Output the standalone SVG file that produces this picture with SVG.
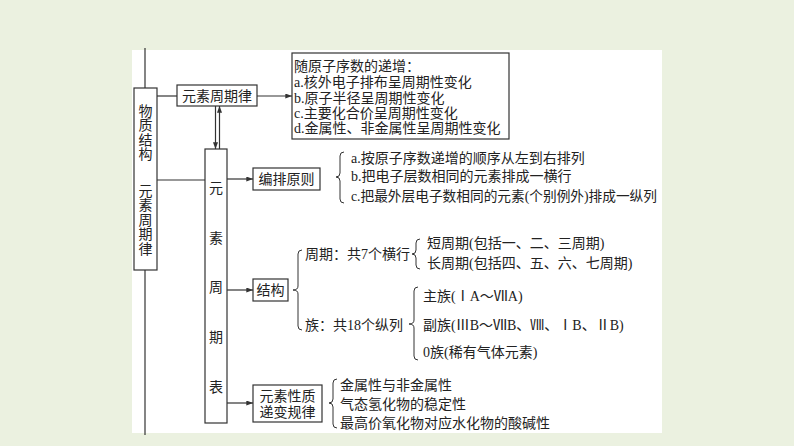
<svg xmlns="http://www.w3.org/2000/svg" width="794" height="446" viewBox="0 0 794 446">
<defs>
<style>
text{font-family:"Liberation Serif","Noto Sans CJK SC",serif;font-size:14px;fill:#222;dominant-baseline:central}
.box{fill:#fff;stroke:#333;stroke-width:1.2}
.ln{fill:none;stroke:#333;stroke-width:1.2}
.br{fill:none;stroke:#333;stroke-width:1}
.mid{text-anchor:middle}
</style>
<marker id="ah" viewBox="0 0 8 6" refX="8" refY="3" markerWidth="7" markerHeight="5" orient="auto" markerUnits="userSpaceOnUse">
<path d="M0,0 L8,3 L0,6 Z" fill="#333"/>
</marker>
</defs>
<rect width="794" height="446" fill="#ebf1e0"/>
<rect x="132" y="50" width="530" height="383" fill="#fff"/>

<g id="connectors">
<line class="ln" x1="145" y1="48" x2="145" y2="88"/>
<line class="ln" x1="145" y1="270" x2="145" y2="435"/>
<line class="ln" x1="157" y1="96" x2="177" y2="96"/>
<line class="ln" x1="257" y1="96" x2="292" y2="96" marker-end="url(#ah)"/>
<line class="ln" x1="157" y1="180" x2="205" y2="180"/>
<line class="ln" x1="215.5" y1="106" x2="215.5" y2="149" marker-end="url(#ah)"/>
<line class="ln" x1="219.5" y1="149" x2="219.5" y2="106" marker-end="url(#ah)"/>
<line class="ln" x1="227" y1="179" x2="253" y2="179" marker-end="url(#ah)"/>
<line class="ln" x1="227" y1="290" x2="253" y2="290" marker-end="url(#ah)"/>
<line class="ln" x1="227" y1="403" x2="253" y2="403" marker-end="url(#ah)"/>
</g>

<g id="node-wuzhi">
<rect class="box" x="134" y="88" width="23" height="182"/>
<text class="mid" x="145.5" y="111">物</text>
<text class="mid" x="145.5" y="125.5">质</text>
<text class="mid" x="145.5" y="140">结</text>
<text class="mid" x="145.5" y="154.5">构</text>
<text class="mid" x="145.5" y="191">元</text>
<text class="mid" x="145.5" y="205.5">素</text>
<text class="mid" x="145.5" y="220">周</text>
<text class="mid" x="145.5" y="234.5">期</text>
<text class="mid" x="145.5" y="249">律</text>
</g>

<g id="node-zhouqilv">
<rect class="box" x="177" y="85" width="80" height="21"/>
<text class="mid" x="217" y="96">元素周期律</text>
</g>

<g id="node-suiyuanzi">
<rect class="box" x="292" y="53" width="217" height="86"/>
<text x="294" y="66">随原子序数的递增：</text>
<text x="294" y="82">a.核外电子排布呈周期性变化</text>
<text x="294" y="98">b.原子半径呈周期性变化</text>
<text x="294" y="113">c.主要化合价呈周期性变化</text>
<text x="294" y="128">d.金属性、非金属性呈周期性变化</text>
</g>

<g id="node-zhouqibiao">
<rect class="box" x="205" y="149" width="22" height="274"/>
<text class="mid" x="216" y="188">元</text>
<text class="mid" x="216" y="238">素</text>
<text class="mid" x="216" y="287">周</text>
<text class="mid" x="216" y="337">期</text>
<text class="mid" x="216" y="387">表</text>
</g>

<g id="node-bianpai">
<rect class="box" x="253" y="168" width="67" height="22"/>
<text class="mid" x="286.5" y="179">编排原则</text>
<path class="br" d="M344,152 Q340,152 340,156 L340,173 Q340,177 336,177 Q340,177 340,181 L340,199 Q340,203 344,203"/>
<text x="351" y="158">a.按原子序数递增的顺序从左到右排列</text>
<text x="351" y="176">b.把电子层数相同的元素排成一横行</text>
<text x="351" y="196" textLength="306" lengthAdjust="spacingAndGlyphs">c.把最外层电子数相同的元素(个别例外)排成一纵列</text>
</g>

<g id="node-jiegou">
<rect class="box" x="253" y="279" width="35" height="22"/>
<text class="mid" x="270.5" y="290">结构</text>
<path class="br" d="M302,250 Q298,250 298,254 L298,286 Q298,290 293,290 Q298,290 298,294 L298,326 Q298,330 302,330"/>
<text x="305" y="254">周期：共7个横行</text>
<text x="305" y="325">族：共18个纵列</text>
<path class="br" d="M420,239 Q416,239 416,243 L416,250 Q416,254 412,254 Q416,254 416,258 L416,265 Q416,269 420,269"/>
<text x="427" y="243">短周期(包括一、二、三周期)</text>
<text x="427" y="263">长周期(包括四、五、六、七周期)</text>
<path class="br" d="M418,287 Q414,287 414,291 L414,320 Q414,324 409,324 Q414,324 414,328 L414,356 Q414,360 418,360"/>
<text x="423" y="296">主族(ⅠA～ⅦA)</text>
<text x="423" y="325">副族(ⅢB～ⅦB、Ⅷ、ⅠB、ⅡB)</text>
<text x="423" y="352">0族(稀有气体元素)</text>
</g>

<g id="node-xingzhi">
<rect class="box" x="253" y="385" width="69" height="37"/>
<text class="mid" x="287.5" y="396">元素性质</text>
<text class="mid" x="287.5" y="412">递变规律</text>
<path class="br" d="M337,379 Q333,379 333,383 L333,399 Q333,403 329,403 Q333,403 333,407 L333,424 Q333,428 337,428"/>
<text x="340" y="385">金属性与非金属性</text>
<text x="340" y="404">气态氢化物的稳定性</text>
<text x="340" y="423">最高价氧化物对应水化物的酸碱性</text>
</g>
</svg>
